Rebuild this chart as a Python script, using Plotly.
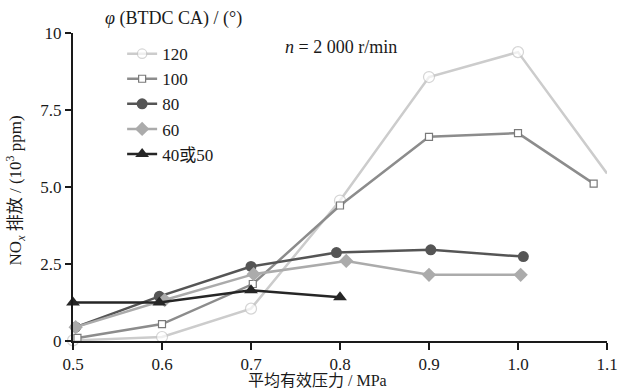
import plotly.graph_objects as go

# Data (x: mean effective pressure / MPa, y: NOx / 10^3 ppm)
x120 = [0.5, 0.6, 0.7, 0.8, 0.9, 1.0, 1.1]
y120 = [0.02, 0.13, 1.05, 4.56, 8.57, 9.38, 5.44]
x100 = [0.505, 0.6, 0.702, 0.8, 0.9, 1.0, 1.085]
y100 = [0.1, 0.55, 1.85, 4.4, 6.63, 6.75, 5.11]
x80 = [0.503, 0.597, 0.7, 0.796, 0.902, 1.006]
y80 = [0.45, 1.45, 2.42, 2.87, 2.96, 2.74]
x60 = [0.503, 0.603, 0.703, 0.807, 0.9, 1.003]
y60 = [0.45, 1.33, 2.17, 2.6, 2.15, 2.15]
x40 = [0.5, 0.597, 0.7, 0.8]
y40 = [1.25, 1.25, 1.65, 1.42]

names = ["120", "100", "80", "60", "40或50"]
xticks = [0.5, 0.6, 0.7, 0.8, 0.9, 1.0, 1.1]
xticklabels = ["0.5", "0.6", "0.7", "0.8", "0.9", "1.0", "1.1"]
yticks = [0, 2.5, 5.0, 7.5, 10]
yticklabels = ["0", "2.5", "5.0", "7.5", "10"]

SERIF = "'Times New Roman', 'Liberation Serif', serif"
CJK = "'Times New Roman', 'Liberation Serif', 'Noto Sans CJK SC', serif"

fig = go.Figure()
fig.add_trace(go.Scatter(x=x120, y=y120, name=names[0], mode="lines+markers",
                         line=dict(color="#cccccc", width=2.5),
                         marker=dict(symbol="circle", size=[11]*6 + [0], color="white",
                                     line=dict(color="#c4c4c4", width=1.2))))
fig.add_trace(go.Scatter(x=x100, y=y100, name=names[1], mode="lines+markers",
                         line=dict(color="#8c8c8c", width=2.5),
                         marker=dict(symbol="square", size=7, color="white",
                                     line=dict(color="#7a7a7a", width=1.2))))
fig.add_trace(go.Scatter(x=x80, y=y80, name=names[2], mode="lines+markers",
                         line=dict(color="#555555", width=2.5),
                         marker=dict(symbol="circle", size=11, color="#555555")))
fig.add_trace(go.Scatter(x=x60, y=y60, name=names[3], mode="lines+markers",
                         line=dict(color="#ababab", width=2.5),
                         marker=dict(symbol="diamond", size=11, color="#ababab")))
fig.add_trace(go.Scatter(x=x40, y=y40, name=names[4], mode="lines+markers",
                         line=dict(color="#262626", width=2.5),
                         marker=dict(symbol="triangle-up", size=12, color="#262626")))

for tr in fig.data:
    tr.cliponaxis = False

fig.update_layout(
    width=620, height=389,
    margin=dict(l=73, r=13, t=33, b=48, autoexpand=False),
    paper_bgcolor="white", plot_bgcolor="white",
    font=dict(family=CJK, size=17, color="#1a1a1a"),
    showlegend=True,
    legend=dict(x=0.092, y=0.99, xanchor="left", yanchor="top",
                font=dict(family=CJK, size=17, color="#1a1a1a"),
                bgcolor="rgba(0,0,0,0)", itemwidth=30, tracegroupgap=0),
    xaxis=dict(range=[0.5, 1.1], tickvals=xticks, ticktext=xticklabels, automargin=False,
               showgrid=False, zeroline=False, showline=True, linecolor="#1a1a1a",
               linewidth=2, ticks="outside", ticklen=7, tickwidth=2, tickcolor="#1a1a1a",
               tickfont=dict(family=SERIF, size=17)),
    yaxis=dict(range=[0, 10], tickvals=yticks, ticktext=yticklabels, automargin=False,
               showgrid=False, zeroline=False, showline=True, linecolor="#1a1a1a",
               linewidth=2, ticks="outside", ticklen=6, tickwidth=2, tickcolor="#1a1a1a",
               tickfont=dict(family=SERIF, size=17)),
    annotations=[
        dict(text="<i>φ</i> (BTDC CA) / (°)", xref="paper", yref="paper",
             x=0.056, y=1.0, xanchor="left", yanchor="bottom", yshift=2,
             showarrow=False, font=dict(family=SERIF, size=18, color="#1a1a1a")),
        dict(text="<i>n</i> = 2 000 r/min", xref="paper", yref="paper",
             x=0.393, y=0.955, xanchor="left", yanchor="middle",
             showarrow=False, font=dict(family=SERIF, size=18, color="#1a1a1a")),
        dict(text="平均有效压力 / MPa", xref="paper", yref="paper",
             x=0.458, y=-0.127, xanchor="center", yanchor="middle",
             showarrow=False, font=dict(family=CJK, size=16, color="#1a1a1a")),
        dict(text="NO<sub><i>x</i></sub> 排放 / (10<sup>3</sup> ppm)", xref="paper", yref="paper",
             x=-0.108, y=0.49, xanchor="center", yanchor="middle", textangle=-90,
             showarrow=False, font=dict(family=CJK, size=17, color="#1a1a1a")),
    ],
)

fig.write_html("out.html", config={"displayModeBar": False},
               post_script="document.body.style.margin='0';")
